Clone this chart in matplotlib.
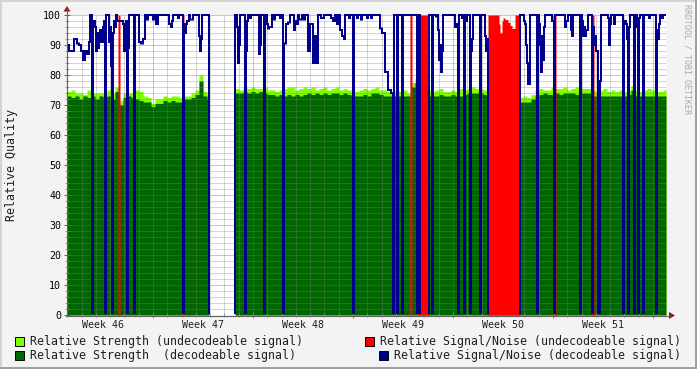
import numpy as np
import matplotlib
matplotlib.use("Agg")
import matplotlib.pyplot as plt
from matplotlib.patches import Rectangle, Polygon
from matplotlib.lines import Line2D

# ---------------- data ----------------
STEP_DAYS = 0.07            # one RRA row = 6048 s
N_ROWS = 599
BLOCK = 4                   # strength values are listed per 4 rows
first_week_start = -0.98    # day of the Monday that starts week 46
week_labels = ["Week 46", "Week 47", "Week 48", "Week 49", "Week 50", "Week 51"]
gap_rows = (142, 168)       # no data
y_ticks = [0, 10, 20, 30, 40, 50, 60, 70, 80, 90, 100]

# Relative Strength (decodeable signal), per 4-row block
dec_strength = [
    73, 72.5, 73, 72, 73, 72.5, 73, 72, 73, 72.5,
    73, 72, 74.5, 70, 72.5, 73, 72.5, 72, 71.5, 71,
    71, 69.5, 70.5, 70.5, 71.5, 71, 71.5, 71, 71, 72,
    72, 72.5, 73.5, 78, 73, 72, 0, 0, 0, 0,
    0, 0, 74, 74, 74.5, 74, 74.5, 74, 74.5, 74,
    73.5, 73.5, 73, 73.5, 73, 73.5, 73, 73.5, 73, 73.5,
    74, 73.5, 74, 73.5, 74, 73.5, 74, 74, 73.5, 74,
    73.5, 73, 73, 73, 73.5, 73, 74, 74, 73.5, 73,
    73, 73, 73, 73, 73, 73, 76, 77.5, 73, 73,
    73, 73, 73, 73.5, 73, 73, 73.5, 73, 73, 73.5,
    74, 74, 74, 74, 73.5, 73, 73, 73, 73, 73,
    73, 73, 73, 71, 71, 71, 72, 73, 73.5, 74,
    73.5, 73.5, 74, 73.5, 74, 74, 74, 73.5, 74, 74,
    74, 73, 73, 73, 73, 73, 73, 73, 73, 73,
    73.5, 75, 73, 73, 73, 73, 73, 73, 73, 73,
]
# Relative Strength (undecodeable signal), per 4-row block
undec_strength = [
    74.5, 75, 74, 74, 73.5, 75, 74, 74, 74, 74,
    75, 74, 76, 71.5, 74, 74, 74, 75, 74.5, 73,
    72.5, 70.5, 72, 72, 73, 72.5, 73, 73, 72.5, 73,
    73, 74, 75, 80, 74.5, 73.5, 0, 0, 0, 0,
    0, 0, 75.5, 75, 76, 75.5, 76, 75.5, 75.5, 76,
    75, 75, 74.5, 75, 75.5, 76, 76, 75, 75.5, 76,
    75.5, 76, 75, 75.5, 76, 75, 75.5, 76, 75, 75.5,
    75, 75, 74.5, 75, 75.5, 75, 75.5, 76, 75, 75,
    74.5, 74.5, 75, 74.5, 75, 74, 77.5, 79, 75, 74.5,
    75, 74.5, 75, 75.5, 74.5, 74.5, 75, 74.5, 75.5, 75,
    75.5, 76, 75.5, 75.5, 75, 74.5, 74.5, 74.5, 74.5, 74.5,
    74.5, 74.5, 74.5, 72.5, 73, 72.5, 73.5, 75, 75.5, 75,
    75, 76, 75.5, 75.5, 76, 75, 75.5, 76, 75.5, 75.5,
    75.5, 75, 74.5, 75, 75.5, 74.5, 75, 74.5, 75, 74.5,
    75, 76.5, 75, 74.5, 75, 75.5, 75, 74.5, 74.5, 75,
]

# Relative Signal/Noise (decodeable signal): (row where value starts, value)
snr_dec_row = [
    0, 2, 7, 10, 12, 14, 16, 18, 20, 22, 23,
    25, 26, 28, 29, 30, 31, 32, 33, 34, 36, 37,
    38, 39, 42, 43, 44, 45, 46, 47, 48, 49, 50,
    56, 57, 58, 59, 60, 61, 62, 67, 68,
    72, 74, 76, 78, 80, 81, 86, 88, 89, 91,
    102, 104, 105, 106, 111, 112, 116, 117, 118, 119, 120, 122, 123, 126,
    132, 133, 134, 135, 142, 168,
    170, 171, 172, 173, 178, 179, 180, 181, 183, 184,
    192, 193, 194, 197, 198, 200, 201, 202, 205, 206, 208, 213, 214,
    216, 217, 219, 221, 223, 227, 228, 230, 231, 232, 235, 237, 238,
    241, 243, 246, 248, 250, 251,
    254, 257, 264, 266, 268, 270, 271, 273, 275, 277, 278, 282, 283,
    286, 287, 290, 291, 294, 295, 300, 301, 304, 305,
    313, 315, 318, 321, 324, 326, 327, 330, 331, 335, 336,
    350, 352, 353, 362, 365, 366,
    369, 370, 371, 372, 373, 374, 375, 376,
    388, 390, 391, 392, 395, 396, 397, 398, 399, 400, 403, 404, 405, 406,
    413, 414, 418, 419, 420, 421, 453,
    457, 458, 459, 460, 461, 463, 470, 471, 472, 473, 474, 475, 476, 477, 478,
    485, 487, 488, 498, 499, 501, 504, 505, 506, 513, 514, 515, 516, 517, 518,
    519, 521, 525, 526, 527, 528, 529, 531, 533, 534, 541, 542, 543, 544,
    547, 548, 556, 557, 559, 560, 561, 562, 563, 567, 568, 569, 570, 571,
    572, 573, 576, 577, 582, 583, 589, 590, 591, 592, 593, 595, 596,
]
snr_dec_val = [
    90, 88, 92, 90.5, 90, 88, 85, 88, 87, 91, 100,
    0, 98, 96, 88, 94, 89, 93, 95, 91, 96, 98,
    0, 100, 91, 96, 83, 0, 94, 98, 96, 100, 98,
    97, 88, 97, 98, 0, 89, 100, 0, 100,
    91, 90.5, 92, 100, 98.5, 100, 98.5, 100, 97, 100,
    97, 96, 98, 100, 99, 100, 0, 97, 94, 97, 98, 100, 98.5, 100,
    93, 88, 92, 100, 0, 100,
    96, 84, 90, 100, 0, 88, 98, 100, 99, 100,
    87, 90, 100, 0, 100, 97, 95.5, 96, 100, 98.5, 100, 99, 100,
    0, 90.5, 97, 97.5, 100, 95, 98, 97, 100, 98.5, 100, 98.5, 100,
    88, 97, 84, 93, 84, 100,
    99, 100, 99, 98, 100, 97, 100, 95, 93, 92, 100, 99, 100,
    0, 100, 99, 100, 98.5, 100, 99, 100, 99, 100,
    95.5, 94, 81, 75, 74, 0, 100, 0, 100, 0, 100,
    0, 100, 0, 100, 0, 100,
    99.5, 100, 95, 85, 90, 81, 88, 100,
    96, 97, 0, 100, 99, 100, 0, 100, 98, 100, 0, 88, 92, 100,
    0, 100, 93, 88, 92, 0, 100,
    98, 97, 90, 84, 77, 100, 0, 100, 97, 90, 81, 93, 85, 96, 100,
    98, 0, 100, 96, 98, 100, 95, 93, 100, 0, 100, 98, 93, 96, 93,
    95, 100, 0, 96, 90, 93, 88, 0, 78, 100, 99, 90, 97, 100,
    97, 100, 0, 98, 97, 92, 0, 96, 100, 0, 99, 100, 96, 0,
    99, 100, 0, 100, 99, 100, 0, 95, 92, 97, 100, 99, 100,
]

# Relative Signal/Noise (undecodeable signal): rows [start, end) and value
red_start = [51, 115, 343, 350, 421, 432, 433, 435, 436, 438, 441, 443, 445, 448, 486, 524]
red_end   = [53, 117, 345, 362, 432, 433, 435, 436, 438, 441, 443, 445, 448, 453, 489, 527]
red_val   = [100, 100, 100, 100, 100, 97, 94, 98, 99, 98.5, 97.5, 96.5, 95.5, 100, 100, 100]

# ---------------- series on the row grid ----------------
rows = np.arange(N_ROWS)
dark = np.asarray(dec_strength, float)[rows // BLOCK]
light = np.asarray(undec_strength, float)[rows // BLOCK]
gap = (rows >= gap_rows[0]) & (rows < gap_rows[1])
dark[gap] = 0
light[gap] = 0
idx = np.searchsorted(snr_dec_row, rows, side="right") - 1
blue = np.asarray(snr_dec_val, float)[idx]
red = np.zeros(N_ROWS)
for s, e, v in zip(red_start, red_end, red_val):
    red[s:e] = v

t = np.arange(N_ROWS + 1) * STEP_DAYS
def ext(a):
    return np.append(a, a[-1])

# ---------------- figure ----------------
W, H = 697, 369
BG = "#f3f3f3"
fig = plt.figure(figsize=(W / 100, H / 100), dpi=100, facecolor=BG)
def fx(px):
    return px / W
def fy(py):
    return 1 - py / H

ax = fig.add_axes([fx(67), fy(315), 599 / W, 300 / H])
ax.set_facecolor("white")
ax.set_xlim(0, N_ROWS * STEP_DAYS)
ax.set_ylim(0, 100)
for s in ax.spines.values():
    s.set_visible(False)

ax.fill_between(t, 0, ext(light), step="post", color="#80FF00", lw=0, zorder=1)
ax.fill_between(t, 0, ext(dark), step="post", color="#006600", lw=0, zorder=1.1)

# grid (drawn over the strength areas)
mono = "DejaVu Sans Mono"
minor_c = (0.5, 0.5, 0.5, 0.32)
major_c = (0.85, 0.25, 0.25, 0.38)
dot = (0, (1, 1))
xmax = N_ROWS * STEP_DAYS
days = np.arange(first_week_start, xmax + 0.01, 1.0)
weeks = np.arange(first_week_start, xmax + 0.01, 7.0)
for d in days:
    if d <= 0:
        continue
    is_major = np.any(np.isclose(d, weeks))
    ax.axvline(d, color=major_c if is_major else minor_c, lw=0.72, ls=dot,
               zorder=2, antialiased=False)
for v in range(2, 101, 2):
    ax.axhline(v, color=major_c if v % 10 == 0 else minor_c, lw=0.72, ls=dot,
               zorder=2, antialiased=False)

ax.fill_between(t, 0, ext(red), step="post", color="#FF0000", lw=0, zorder=2.3)

# blue line
ln, = ax.plot(t, ext(blue), drawstyle="steps-post", color="#00008C", lw=1.44,
              zorder=3, solid_joinstyle="miter")
ln.set_clip_path(Rectangle((0, 1.2 / 300), 1, 1 + 0.8 / 300, transform=ax.transAxes))

# axes lines, ticks and arrows (pixel layout)
axis_c = "#606060"
tr = fig.transFigure
fig.add_artist(Line2D([fx(67), fx(67)], [fy(315.5), fy(9)], color=axis_c, lw=0.8, transform=tr))
fig.add_artist(Line2D([fx(66), fx(670)], [fy(315.5), fy(315.5)], color=axis_c, lw=0.8, transform=tr))
arrow_c = "#8B1A1A"
fig.add_artist(Polygon([[fx(63.5), fy(11.5)], [fx(70.5), fy(11.5)], [fx(67), fy(6)]],
                       closed=True, transform=tr, color=arrow_c, lw=0))
fig.add_artist(Polygon([[fx(669), fy(312)], [fx(669), fy(319)], [fx(675), fy(315.5)]],
                       closed=True, transform=tr, color=arrow_c, lw=0))

ax.set_yticks(y_ticks)
ax.set_yticklabels([str(v) for v in y_ticks], fontfamily=mono, fontsize=7.2)
ax.set_yticks(np.arange(0, 101, 2), minor=True)
ax.tick_params(axis="y", which="major", length=4, width=0.7, color=axis_c,
               direction="inout", pad=2.2)
ax.tick_params(axis="y", which="minor", length=2.5, width=0.6, color="#909090",
               direction="inout")
ax.set_xticks(weeks[(weeks > 0) & (weeks < xmax)])
ax.set_xticklabels([])
ax.set_xticks(days[(days > 0) & (days < xmax)], minor=True)
ax.tick_params(axis="x", which="major", length=4, width=0.7, color="#C06060",
               direction="inout")
ax.tick_params(axis="x", which="minor", length=2.5, width=0.6, color="#909090",
               direction="inout")

label_days = weeks[:-1] + 3.5
for d, lab in zip(label_days, week_labels):
    ax.text(d, -3.2, lab, ha="center", va="center", fontfamily=mono,
            fontsize=7.2, color="#202020", transform=ax.transData, clip_on=False)

fig.text(fx(12), fy(165), "Relative Quality", rotation=90, ha="center", va="center",
         fontfamily=mono, fontsize=8.4, color="#202020")
fig.text(fx(686.5), fy(4), "RRDTOOL / TOBI OETIKER", rotation=270, ha="center", va="top",
         fontfamily=mono, fontsize=6.0, color="#aaaaaa")

# legend
legend = [
    ("#80FF00", "Relative Strength (undecodeable signal)", 15, 341),
    ("#006600", "Relative Strength  (decodeable signal)", 15, 355),
    ("#FF0000", "Relative Signal/Noise (undecodeable signal)", 365, 341),
    ("#00008C", "Relative Signal/Noise (decodeable signal)", 379, 355),
]
for col, txt, x0, yc in legend:
    fig.add_artist(Rectangle((fx(x0), fy(yc + 4.5)), 9 / W, 9 / H, transform=tr,
                             facecolor=col, edgecolor="#000000", lw=0.7))
    fig.text(fx(x0 + 15), fy(yc), txt, ha="left", va="center", fontfamily=mono,
             fontsize=8.35, color="#202020")

# 3D frame
fig.add_artist(Rectangle((0, fy(2)), 1, 2 / H, transform=tr, color="#d4d4d4", lw=0))
fig.add_artist(Rectangle((0, 0), 2 / W, 1, transform=tr, color="#d4d4d4", lw=0))
fig.add_artist(Rectangle((0, 0), 1, 2 / H, transform=tr, color="#a0a0a0", lw=0))
fig.add_artist(Rectangle((fx(695), 0), 2 / W, 1, transform=tr, color="#a0a0a0", lw=0))

fig.savefig("out.png", dpi=100, facecolor=BG)
